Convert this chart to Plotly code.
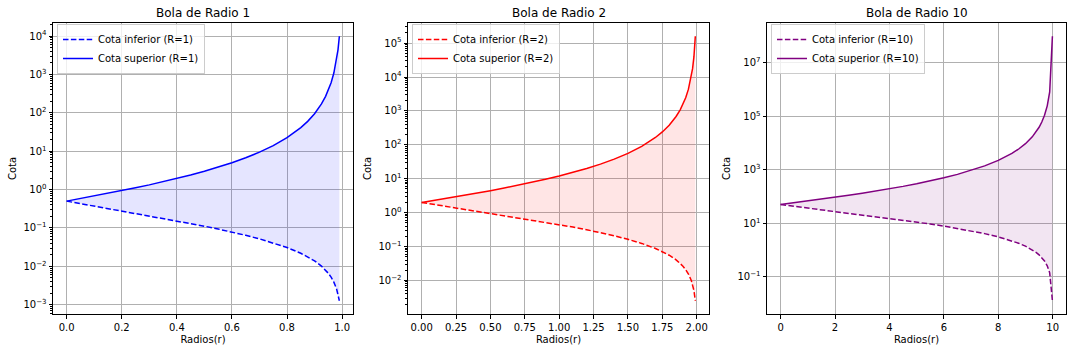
import plotly.graph_objects as go
import math

# ---- data ----
r1 = [0, 0.05, 0.1, 0.15, 0.2, 0.25, 0.3, 0.35, 0.4, 0.45, 0.5, 0.55, 0.6, 0.65, 0.7, 0.75,
      0.8, 0.85, 0.875, 0.9, 0.925, 0.94, 0.95, 0.96, 0.97, 0.98, 0.985, 0.99]
lower1 = [0.5, 0.4308, 0.3719, 0.3214, 0.2778, 0.24, 0.2071, 0.1783, 0.1531, 0.1308, 0.1111,
          0.09365, 0.07813, 0.0643, 0.0519, 0.04082, 0.03086, 0.02191, 0.01778, 0.01385,
          0.01012, 0.00797, 0.006575, 0.005206, 0.003865, 0.002551, 0.001904, 0.001263]
upper1 = [0.5, 0.5817, 0.679, 0.7959, 0.9375, 1.111, 1.327, 1.598, 1.944, 2.397, 3.0, 3.827,
          5.0, 6.734, 9.444, 14.0, 22.5, 41.11, 60, 95, 171.1, 269.4, 390, 612.5, 1094, 2475,
          4411, 9950]

r2 = [0, 0.1, 0.2, 0.3, 0.4, 0.5, 0.6, 0.7, 0.8, 0.9, 1.0, 1.1, 1.2, 1.3, 1.4, 1.5, 1.6, 1.7,
      1.75, 1.8, 1.85, 1.88, 1.9, 1.92, 1.94, 1.96, 1.97, 1.98, 1.99]
lower2 = [2, 1.723, 1.488, 1.285, 1.111, 0.96, 0.8284, 0.7133, 0.6122, 0.5232, 0.4444, 0.3746,
          0.3125, 0.2571, 0.2076, 0.1633, 0.1235, 0.08766, 0.07112, 0.0554, 0.04048, 0.03188,
          0.0263, 0.02082, 0.01546, 0.0102, 0.007614, 0.00505, 0.002512]
upper2 = [2, 2.327, 2.716, 3.183, 3.75, 4.444, 5.306, 6.391, 7.778, 9.587, 12.0, 15.31, 20.0,
          26.94, 37.78, 56.0, 90.0, 164.4, 240, 380, 684.4, 1078, 1560, 2450, 4378, 9900,
          17644, 39800, 159600]

r10 = [0, 0.5, 1, 1.5, 2, 2.5, 3, 3.5, 4, 4.5, 5, 5.5, 6, 6.5, 7, 7.5, 8, 8.5, 8.75, 9, 9.25,
       9.4, 9.5, 9.6, 9.7, 9.8, 9.89, 9.99]
lower10 = [50, 43.08, 37.19, 32.14, 27.78, 24.0, 20.71, 17.83, 15.31, 13.08, 11.11, 9.365,
           7.813, 6.43, 5.19, 4.082, 3.086, 2.191, 1.778, 1.385, 1.012, 0.797, 0.6575, 0.5206,
           0.3865, 0.2551, 0.139, 0.01252]
upper10 = [50, 58.17, 67.9, 79.59, 93.75, 111.1, 132.7, 159.8, 194.4, 239.7, 300, 382.7, 500,
           673.4, 944.4, 1400, 2250, 4111, 6000, 9500, 17110, 26940, 39000, 61250, 109400,
           247500, 821900, 99950000]

radii = [1, 2, 10]
titles = ["Bola de Radio 1", "Bola de Radio 2", "Bola de Radio 10"]
colors = ["#0000ff", "#ff0000", "#800080"]
fills = ["rgba(0,0,255,0.1)", "rgba(255,0,0,0.1)", "rgba(128,0,128,0.1)"]
xtick_vals = [[0, 0.2, 0.4, 0.6, 0.8, 1.0], [0, 0.25, 0.5, 0.75, 1.0, 1.25, 1.5, 1.75, 2.0],
              [0, 2, 4, 6, 8, 10]]
xtick_text = [["0.0", "0.2", "0.4", "0.6", "0.8", "1.0"],
              ["0.00", "0.25", "0.50", "0.75", "1.00", "1.25", "1.50", "1.75", "2.00"],
              ["0", "2", "4", "6", "8", "10"]]
ytick_exp = [[-3, -2, -1, 0, 1, 2, 3, 4], [-2, -1, 0, 1, 2, 3, 4, 5], [-1, 1, 3, 5, 7]]

series = [(r1, lower1, upper1), (r2, lower2, upper2), (r10, lower10, upper10)]

# ---- layout geometry ----
W, H = 1072, 352
xdom_px = [(53, 353), (408, 709), (767, 1066)]
ytop, ybot = 23, 314

FONT = "DejaVu Sans"
fig = go.Figure()

for i, (R, (rr, lo, up)) in enumerate(zip(radii, series)):
    n = i + 1
    xa = "x" if n == 1 else f"x{n}"
    ya = "y" if n == 1 else f"y{n}"
    leg = "legend" if n == 1 else f"legend{n}"
    # lower bound (dashed)
    fig.add_trace(go.Scatter(x=rr, y=lo, mode="lines", name=f"Cota inferior (R={R})",
                             line=dict(color=colors[i], width=1.5, dash="5.5px,2.4px"),
                             xaxis=xa, yaxis=ya, legend=leg))
    # shaded region between bounds
    fig.add_trace(go.Scatter(x=rr, y=up, mode="lines", line=dict(width=0, color=fills[i]),
                             fill="tonexty", fillcolor=fills[i], showlegend=False,
                             hoverinfo="skip", xaxis=xa, yaxis=ya))
    # upper bound (solid)
    fig.add_trace(go.Scatter(x=rr, y=up, mode="lines", name=f"Cota superior (R={R})",
                             line=dict(color=colors[i], width=1.5),
                             xaxis=xa, yaxis=ya, legend=leg))

    xmin, xmax = min(rr), max(rr)
    dx = (xmax - xmin) * 0.05
    lmin = math.log10(min(lo)); lmax = math.log10(max(up))
    dl = (lmax - lmin) * 0.05

    x0, x1 = xdom_px[i]
    minor_vals = []
    if i < 2:
        for e in range(-4, 7):
            for m in range(2, 10):
                minor_vals.append(m * 10 ** e)
    axis_common = dict(showline=True, linecolor="black", linewidth=1, mirror=True,
                       ticks="outside", ticklen=3.5, tickwidth=0.8, tickcolor="black",
                       showgrid=True, gridcolor="#b0b0b0", gridwidth=0.8, zeroline=False,
                       tickfont=dict(family=FONT, size=10, color="black"))
    fig.layout[f"xaxis{'' if n == 1 else n}"] = dict(
        domain=[x0 / W, x1 / W], anchor=ya, range=[xmin - dx, xmax + dx],
        tickmode="array", tickvals=xtick_vals[i], ticktext=xtick_text[i],
        title=dict(text="Radios(r)", font=dict(family=FONT, size=10, color="black"), standoff=4),
        **axis_common)
    yaxis = dict(
        domain=[1 - ybot / H, 1 - ytop / H], anchor=xa, type="log",
        range=[lmin - dl, lmax + dl],
        tickmode="array", tickvals=[10 ** e for e in ytick_exp[i]],
        ticktext=[f"10<sup>{str(e).replace('-', '−')}</sup>" for e in ytick_exp[i]],
        title=dict(text="Cota", font=dict(family=FONT, size=10, color="black"), standoff=4),
        **axis_common)
    if minor_vals:
        yaxis["minor"] = dict(tickmode="array", tickvals=minor_vals, ticks="outside",
                              ticklen=2, tickwidth=0.6, tickcolor="black", showgrid=False)
    fig.layout[f"yaxis{'' if n == 1 else n}"] = yaxis

    fig.layout[leg] = dict(x=(x0 + 4) / W, y=1 - (ytop + 1) / H, xanchor="left", yanchor="top",
                           bgcolor="rgba(255,255,255,0.8)", bordercolor="#cccccc", borderwidth=1,
                           font=dict(family=FONT, size=10, color="black"),
                           traceorder="normal", tracegroupgap=0, itemwidth=30)
    fig.add_annotation(text=titles[i], x=(x0 + x1) / 2 / W, y=1 - 13 / H, xref="paper",
                       yref="paper", showarrow=False, xanchor="center", yanchor="middle",
                       font=dict(family=FONT, size=12, color="black"))

fig.update_layout(width=W, height=H, margin=dict(l=0, r=0, t=0, b=0),
                  paper_bgcolor="white", plot_bgcolor="white", showlegend=True,
                  font=dict(family=FONT, size=10, color="black"))
fig.write_html("out.html")
